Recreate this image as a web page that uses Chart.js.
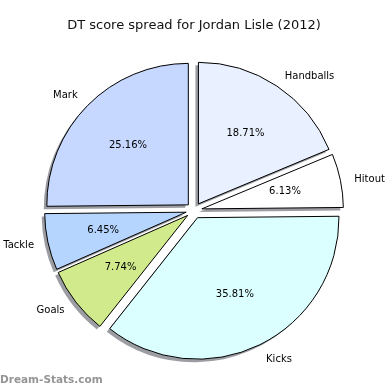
<!DOCTYPE html>
<html>
<head>
<meta charset="utf-8">
<script src="https://cdn.jsdelivr.net/npm/chart.js@4.4.1/dist/chart.umd.min.js"></script>
<style>
    body { margin: 0; background: #fff; }
    #wrap { position: relative; width: 390px; height: 390px; }
</style>
</head>
<body>
<div id="wrap"><canvas id="pieChart" width="390" height="390"></canvas></div>
<script>
// Slices listed clockwise from 12 o'clock (Chart.js draws clockwise)
const labels = ['Handballs', 'Hitout', 'Kicks', 'Goals', 'Tackle', 'Mark'];
const shares = [18.71, 6.13, 35.81, 7.74, 6.45, 25.16];
const colors = ['#e9f0ff', '#ffffff', '#dbffff', '#d1eb8c', '#b5d5ff', '#c6d8ff'];

const EXPLODE = 8;          // px every slice is pushed out along its mid angle
const SHADOW_DX = -3;       // shadow sits a little left and down
const SHADOW_DY = 3;

// Explode + drop shadow: wrap the stock arc draw
const arcDraw = Chart.ArcElement.prototype.draw;
Chart.ArcElement.prototype.draw = function (ctx) {
    const mid = (this.startAngle + this.endAngle) / 2;
    const dx = Math.cos(mid) * EXPLODE;
    const dy = Math.sin(mid) * EXPLODE;

    ctx.save();
    ctx.translate(dx + SHADOW_DX, dy + SHADOW_DY);
    ctx.beginPath();
    ctx.moveTo(this.x, this.y);
    ctx.arc(this.x, this.y, this.outerRadius, this.startAngle, this.endAngle);
    ctx.closePath();
    ctx.fillStyle = 'rgba(55, 60, 70, 0.5)';
    ctx.fill();
    ctx.restore();

    ctx.save();
    ctx.translate(dx, dy);
    arcDraw.call(this, ctx);
    ctx.restore();
};

// Names outside the pie, percentages inside
const sliceText = {
    id: 'sliceText',
    afterDatasetsDraw(chart) {
        const ctx = chart.ctx;
        const arcs = chart.getDatasetMeta(0).data;
        ctx.save();
        ctx.font = '10px "DejaVu Sans"';
        ctx.fillStyle = '#000';
        ctx.textBaseline = 'middle';
        arcs.forEach((arc, i) => {
            const mid = (arc.startAngle + arc.endAngle) / 2;
            const cx = arc.x + Math.cos(mid) * EXPLODE;
            const cy = arc.y + Math.sin(mid) * EXPLODE;
            const r = arc.outerRadius;

            ctx.textAlign = 'center';
            ctx.fillText(shares[i].toFixed(2) + '%', cx + Math.cos(mid) * r * 0.6, cy + Math.sin(mid) * r * 0.6);

            // nudge labels on the right a touch lower, like the original
            const lx = cx + Math.cos(mid) * r * 1.1;
            const ly = cy + Math.sin(mid) * r * 1.1 + (Math.cos(mid) > 0 ? 2 : 0);
            ctx.textAlign = Math.cos(mid) > 0 ? 'left' : 'right';
            ctx.fillText(labels[i], lx, ly);
        });

        // site watermark
        ctx.font = 'bold 10.5px "DejaVu Sans"';
        ctx.fillStyle = '#959595';
        ctx.textAlign = 'left';
        ctx.fillText('Dream-Stats.com', 0, 380);
        ctx.restore();
    }
};

new Chart(document.getElementById('pieChart'), {
    type: 'pie',
    data: {
        labels: labels,
        datasets: [{
            data: shares,
            backgroundColor: colors,
            borderColor: '#000',
            borderWidth: 1,
            borderJoinStyle: 'miter',
            radius: 141.5
        }]
    },
    options: {
        responsive: false,
        animation: false,
        events: [],
        layout: { padding: { left: 0, right: 2, top: 0, bottom: 2.8 } },
        plugins: {
            legend: { display: false },
            tooltip: { enabled: false },
            title: {
                display: true,
                text: 'DT score spread for Jordan Lisle (2012)',
                color: '#111',
                font: { family: 'DejaVu Sans', size: 13, weight: 'normal', lineHeight: 1.2 },
                padding: { top: 18.2, bottom: 0 }
            }
        }
    },
    plugins: [sliceText]
});
</script>
</body>
</html>
